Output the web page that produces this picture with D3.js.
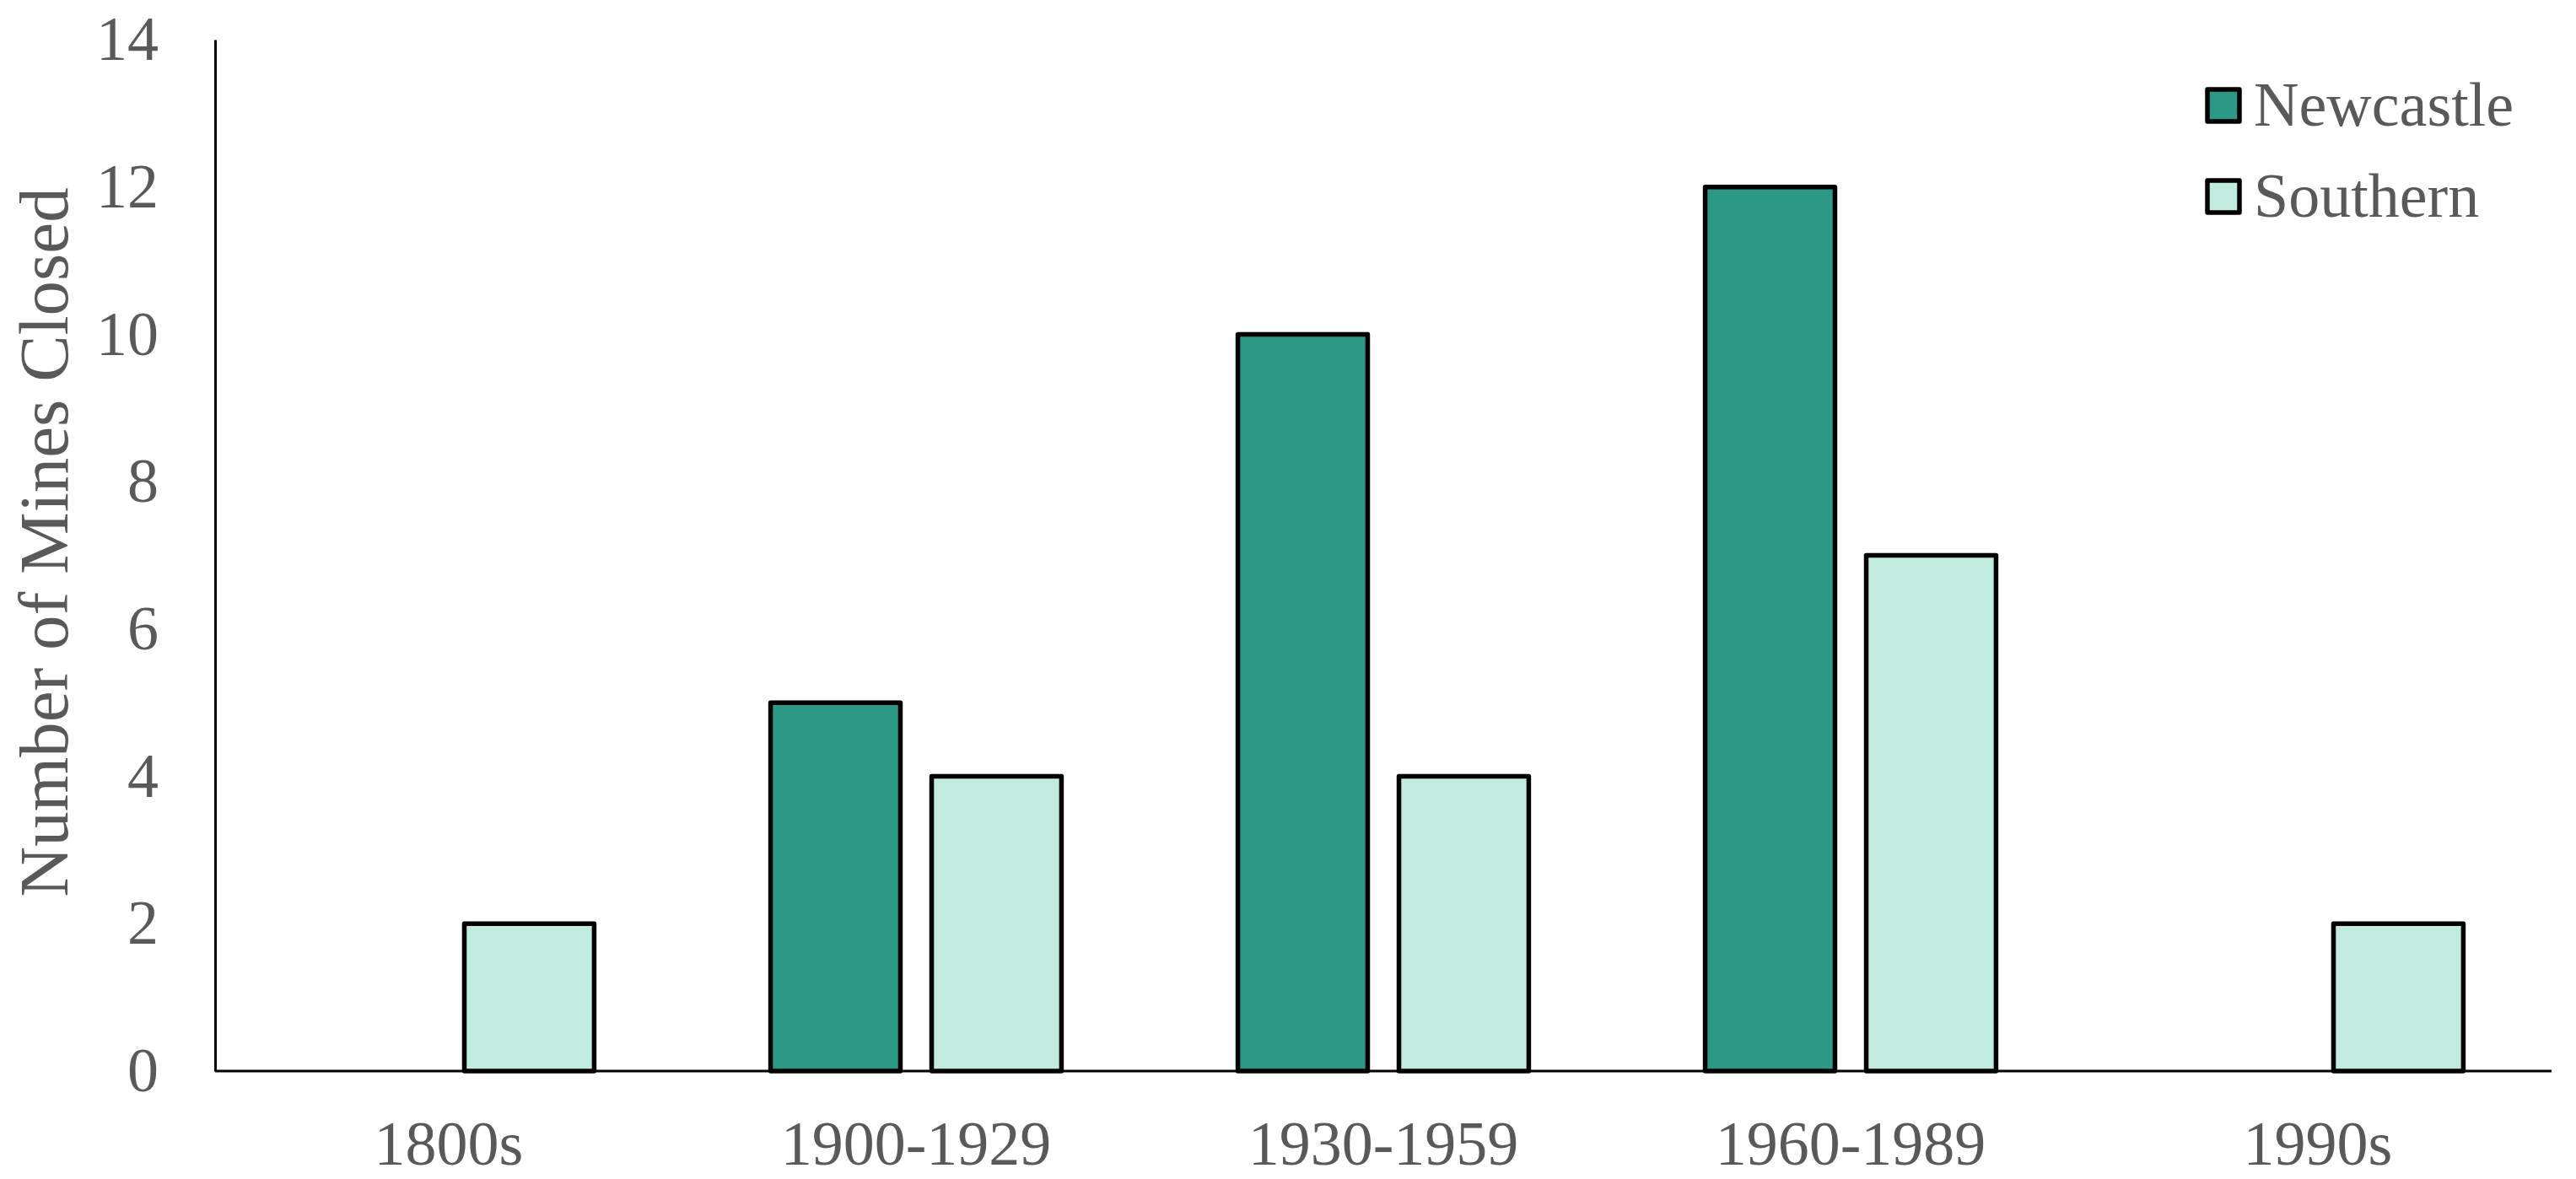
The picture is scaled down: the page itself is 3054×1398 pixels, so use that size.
<!DOCTYPE html>
<html><head><meta charset="utf-8">
<script src="https://cdn.jsdelivr.net/npm/d3@7"></script>
<style>
html,body{margin:0;padding:0;background:#fff;}
svg{display:block;}
text{font-family:"Liberation Serif","Times New Roman",serif;fill:#595959;}
</style></head>
<body>
<svg id="chart" width="3054" height="1398"></svg>
<script>
const categories = ["1800s","1900-1929","1930-1959","1960-1989","1990s"];
const seriesNames = ["Newcastle","Southern"];
const newcastle = [0,5,10,12,0];
const southern = [2,4,4,7,2];
const yTicks = [0,2,4,6,8,10,12,14];
const colors = ["#2C9986","#C1EBDF"];

(function(){
const svg = d3.select("#chart");
const mLeft = 255, mRight = 3025, mTop = 47, mBottom = 1270;
const fs = "74px";

const x0 = d3.scaleBand().domain(categories).range([mLeft,mRight]).paddingInner(0.3775).paddingOuter(0.18875);
const x1 = d3.scaleBand().domain(seriesNames).range([0,x0.bandwidth()]).paddingInner(0.194).paddingOuter(0);
const y = d3.scaleLinear().domain([0,14]).range([mBottom,mTop]);
const color = d3.scaleOrdinal().domain(seriesNames).range(colors);

const values = {Newcastle:newcastle, Southern:southern};
const data = [];
categories.forEach((c,i)=>seriesNames.forEach(s=>data.push({cat:c,series:s,value:values[s][i]})));

// bars
svg.append("g").selectAll("rect").data(data.filter(d=>d.value>0)).join("rect")
  .attr("x",d=>x0(d.cat)+x1(d.series))
  .attr("y",d=>y(d.value))
  .attr("width",x1.bandwidth())
  .attr("height",d=>y(0)-y(d.value))
  .attr("fill",d=>color(d.series))
  .attr("stroke","#000")
  .attr("stroke-width",5.5)
  .attr("stroke-linejoin","round");

// y axis
const yAxis = d3.axisLeft(y).tickValues(yTicks).tickSize(0).tickPadding(67).tickFormat(d3.format("d"));
const gy = svg.append("g").attr("transform",`translate(${mLeft},0)`).call(yAxis);
gy.select(".domain").attr("stroke","#000").attr("stroke-width",3);
gy.selectAll("text").style("font-size",fs).style("font-family","Liberation Serif").attr("fill","#595959");

// x axis
const xAxis = d3.axisBottom(x0).tickSize(0).tickPadding(58);
const gx = svg.append("g").attr("transform",`translate(0,${mBottom})`).call(xAxis);
gx.select(".domain").attr("d",`M${mLeft},0H${mRight}`).attr("stroke","#000").attr("stroke-width",3);
gx.selectAll("text").style("font-size",fs).style("font-family","Liberation Serif").attr("fill","#595959");

// y title
svg.append("text")
  .attr("transform","translate(80,643) rotate(-90)")
  .attr("text-anchor","middle")
  .style("font-size","83px")
  .text("Number of Mines Closed");

// legend
const lg = svg.append("g");
const boxY = [106,214];
const textY = [149,257];
seriesNames.forEach((s,i)=>{
  lg.append("rect").attr("x",2617).attr("y",boxY[i]).attr("width",38).attr("height",38)
    .attr("fill",color(s)).attr("stroke","#000").attr("stroke-width",5.5).attr("stroke-linejoin","round");
  lg.append("text").attr("x",2672).attr("y",textY[i])
    .style("font-size",fs).text(s);
});
})();
</script>
</body></html>
